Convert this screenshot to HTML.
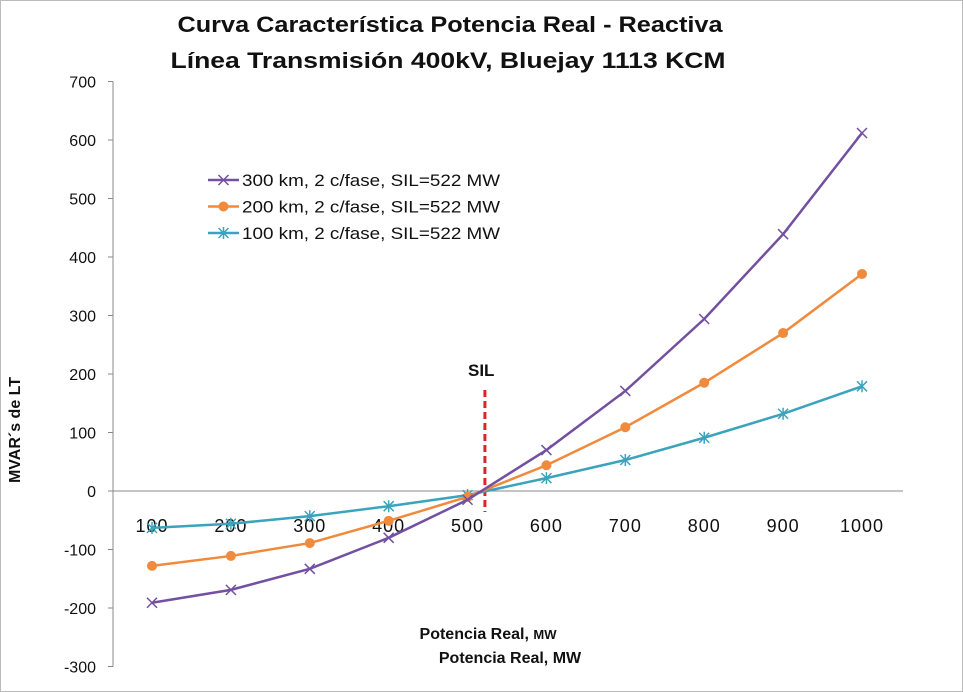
<!DOCTYPE html>
<html><head><meta charset="utf-8"><style>
html,body{margin:0;padding:0;background:#fff;}
svg{display:block;font-family:"Liberation Sans",sans-serif;}
</style></head><body>
<svg id="chart" width="963" height="692" xmlns="http://www.w3.org/2000/svg">
<rect x="0.5" y="0.5" width="962" height="691" fill="#fff" stroke="#bbb"/>
<text x="450" y="32" text-anchor="middle" font-size="22" font-weight="bold" fill="#111" textLength="545" lengthAdjust="spacingAndGlyphs">Curva Característica Potencia Real - Reactiva</text>
<text x="448" y="68" text-anchor="middle" font-size="22" font-weight="bold" fill="#111" textLength="555" lengthAdjust="spacingAndGlyphs">Línea  Transmisión 400kV, Bluejay 1113 KCM</text>
<g id="axes"></g>
<g id="series"></g>
<text transform="translate(20,430) rotate(-90)" text-anchor="middle" font-size="16" font-weight="bold" fill="#111">MVAR´s de LT</text>
<text x="488" y="639" text-anchor="middle" font-size="16" font-weight="bold" fill="#111">Potencia Real, <tspan font-size="13">MW</tspan></text>
<text x="510" y="663" text-anchor="middle" font-size="16" font-weight="bold" fill="#111">Potencia Real, MW</text>
<text x="468" y="376" font-size="17" font-weight="bold" fill="#111">SIL</text>
<g id="legend"></g>
</svg>
<script>
const categories=[100,200,300,400,500,600,700,800,900,1000];
const s300=[-191,-169,-133,-80,-15,70,171,294,439,612];
const s200=[-128,-111,-89,-51,-10,44,109,185,270,371];
const s100=[-63,-56,-43,-26,-7,22,53,91,132,179];
const yTicks=[700,600,500,400,300,200,100,0,-100,-200,-300];
const silValue=522;
const NS="http://www.w3.org/2000/svg";
const X=v=>152+(v-100)*(710/900);
const Y=v=>491-v*0.585;
function mk(tag,attrs,parent){const e=document.createElementNS(NS,tag);for(const k in attrs)e.setAttribute(k,attrs[k]);parent.appendChild(e);return e;}
const axes=document.getElementById('axes');
let a=mk('line',{x1:113,y1:Y(700),x2:113,y2:Y(-300),stroke:'#888'},axes);


a=mk('line',{x1:113,y1:Y(0),x2:903,y2:Y(0),stroke:'#888'},axes);


yTicks.forEach(t=>{
 const l=mk('line',{x1:108,y1:Y(t),x2:113,y2:Y(t),stroke:'#888'},axes);
 
 
 const tx=mk('text',{x:96,y:Y(t)+6,'text-anchor':'end','font-size':16,fill:'#111'},axes);
 tx.textContent=t;
 
 
});
categories.forEach(c=>{
 const tx=mk('text',{x:X(c),y:532,'text-anchor':'middle','font-size':18,fill:'#111','letter-spacing':'1'},axes);
 tx.textContent=c;
 
 
});
const sil=mk('line',{x1:X(silValue),y1:390,x2:X(silValue),y2:512,stroke:'#d62728','stroke-width':3,'stroke-dasharray':'7,4'},axes);


const series=document.getElementById('series');
function marker(kind,x,y,color,g){
 if(kind==='circle'){const m=mk('circle',{cx:x,cy:y,r:5,fill:color},g);return m;}
 const p=kind==='x'?`M${x-5},${y-5}L${x+5},${y+5}M${x-5},${y+5}L${x+5},${y-5}`:`M${x-5},${y-5}L${x+5},${y+5}M${x-5},${y+5}L${x+5},${y-5}M${x},${y-6}L${x},${y+6}`;
 return mk('path',{d:p,stroke:color,'stroke-width':1.5,fill:'none'},g);
}
const defs=[[s100,'#3ba3bd','star','series-100km'],[s200,'#f08a3c','circle','series-200km'],[s300,'#7350a0','x','series-300km']];
defs.forEach(([vals,color,kind,name])=>{
 const g=mk('g',{},series);
 
 
 const ln=mk('polyline',{points:vals.map((v,i)=>X(categories[i])+','+Y(v)).join(' '),fill:'none',stroke:color,'stroke-width':2.5},g);
 
 
 vals.forEach((v,i)=>{const m=marker(kind,X(categories[i]),Y(v),color,g);
  
  });
});
const legend=document.getElementById('legend');
const labels=[['300 km, 2 c/fase, SIL=522 MW','#7350a0','x'],['200 km, 2 c/fase, SIL=522 MW','#f08a3c','circle'],['100 km, 2 c/fase, SIL=522 MW','#3ba3bd','star']];
labels.forEach(([t,c,k],i)=>{
 const y=180+i*26.5;
 const g=mk('g',{},legend);
 
 
 mk('line',{x1:208,y1:y,x2:239,y2:y,stroke:c,'stroke-width':2.5},g);
 marker(k,223.5,y,c,g);
 const tx=mk('text',{x:242,y:y+6,'font-size':17,fill:'#111',textLength:258,lengthAdjust:'spacingAndGlyphs'},g);
 tx.textContent=t;
});
</script>
</body></html>
